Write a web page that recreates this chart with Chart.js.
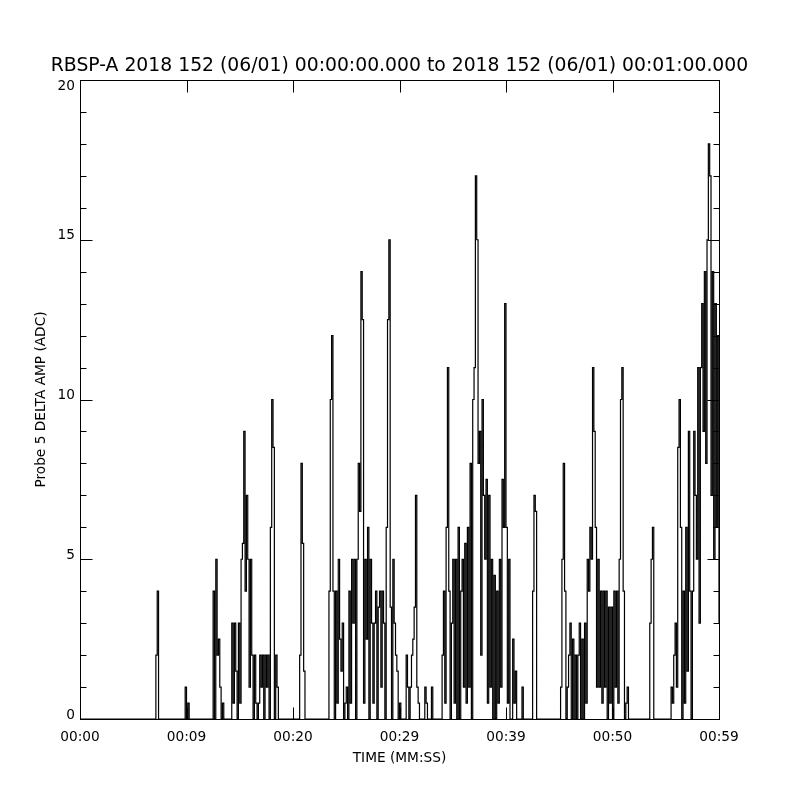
<!DOCTYPE html>
<html>
<head>
<meta charset="utf-8">
<script src="https://cdn.jsdelivr.net/npm/chart.js@4.4.1/dist/chart.umd.min.js"></script>
<style>
  html, body { margin: 0; padding: 0; background: #ffffff; }
  #wrap { width: 800px; height: 800px; }
</style>
</head>
<body>
<div id="wrap"><canvas id="c" width="800" height="800"></canvas></div>
<script>
// ---------------- data ----------------
const chartTitle = 'RBSP-A 2018 152 (06/01) 00:00:00.000 to 2018 152 (06/01) 00:01:00.000';
const xAxisTitle = 'TIME (MM:SS)';
const yAxisTitle = 'Probe 5 DELTA AMP (ADC)';

const timeTickValues = [0, 10, 20, 30, 40, 50, 60];
const timeTickLabels = ['00:00', '00:09', '00:20', '00:29', '00:39', '00:50', '00:59'];
const ampTickValues = [0, 5, 10, 15, 20];
const ampTickLabels = ['0', '5', '10', '15', '20'];
const ampMinorStep = 1;

const sampleStartSec = 0;
const samplePeriodSec = 0.125;

// Probe 5 delta amplitude (ADC), one sample every 0.125 s
const deltaAmp = [
  0,0,0,0,0,0,0,0,0,0, 0,0,0,0,0,0,0,0,0,0,            // 0
  0,0,0,0,0,0,0,0,0,0, 0,0,0,0,0,0,0,0,0,0,            // 20
  0,0,0,0,0,0,0,0,0,0, 0,0,0,0,0,0,0,2,4,0,            // 40
  0,0,0,0,0,0,0,0,0,0, 0,0,0,0,0,0,0,0,0,1,            // 60
  0,0.5,0,0,0,0,0,0,0,0, 0,0,0,0,0,0,0,0,0,0,          // 80
  4,0,5,2,2.5,1,0,0.5,0,0, 0,0,0,0,3,0.5,3,1.5,0,3,    // 100
  0.5,5,5.5,9,4,7,5,1,5,2, 0,2,0.5,0,0.5,2,1,2,0,2,    // 120
  1,2,0,6,10,8.5,0,2,1,0, 0,0,0,0,0,0,0,0,0,0,         // 140
  0,0,0,0,0,2,8,5.5,1.5,0, 0,0,0,0,0,0,0,0,0,0,        // 160
  0,0,0,0,0,0,0,4,10,12, 4,0,4,0.5,5,2.5,1.5,3,0,0.5,  // 180
  1,0,4,0.5,5,3,5,0,5,8, 6.5,14,12.5,0.5,5,2.5,6,0,5,3,// 200
  0.5,3,4,0,3.5,4,1,4,3,0, 6,12.5,15,3.5,0,5,3,2,1.5,0,// 220
  0.5,0,0,0,0,2,1,0,1,2, 2.5,3.5,7,1,0.5,0,0,0,0,1,    // 240
  0.5,0,0,0,1,0,0,0,0,0, 0,0,2,4,0.5,6,11,4,0,3,       // 260
  5,0.5,5,0,6,0,4,5,1,5.5, 0.5,6,1,8,0,10,11,17,15,8,  // 280
  9,2,10,7,5,7.5,0.5,7,1,5, 0,4.5,0,4,0.5,5,1,7.5,6,13,// 300
  6,0.5,5,0,0,2.5,0.5,1.5,0,0, 0,0,1,0,0,0,0,0,0,0,    // 320
  4,7,6.5,0,0,0,0,0,0,0, 0,0,0,0,0,0,0,0,0,0,          // 340
  0,1,5,8,4,0,1,2,3,0, 2.5,0,2,0,2,3,0,2.5,0,3,        // 360
  0.5,5,4,6,5,11,9,6,1,5, 1,4,0.5,4,1,4,0,3.5,0.5,3.5, // 380
  0,4,1,4,0.5,5,10,11,4,0, 0.5,1,0,0,0,0,0,0,0,0,      // 400
  0,0,0,0,0,0,0,0,3,5, 6,0,0,0,0,0,0,0,0,0,            // 420
  0,0,0,0,1,0.5,2,3,1,8.5, 10,6,0,4,0.5,6,1.5,9,4,0,   // 440
  4,9,7,5,11,3,11,13,9,14, 8,15,18,17,7,14,5,13,6,12,  // 460
  3                                                    // 480
];

// ---------------- chart ----------------
const points = deltaAmp.map((v, i) => ({ x: sampleStartSec + i * samplePeriodSec, y: v }));

const FONT = '"DejaVu Sans", "Liberation Sans", sans-serif';

const framePlugin = {
  id: 'idlFrame',
  beforeDraw(chart) {
    // keep the top y label ("20") just inside the frame, as in the original
    const ys = chart.scales.y;
    const items = ys.getLabelItems(chart.chartArea);
    items.forEach(it => {
      if (it.label === ampTickLabels[ampTickLabels.length - 1]) {
        it.options.translation[1] = ys.getPixelForValue(ys.max) + 6;
      }
    });
  },
  afterDraw(chart) {
    const ctx = chart.ctx;
    const a = chart.chartArea;
    const xs = chart.scales.x;
    const ys = chart.scales.y;
    ctx.save();
    ctx.strokeStyle = '#000';
    ctx.lineWidth = 1;
    ctx.strokeRect(a.left + 0.5, a.top + 0.5, a.right - a.left, a.bottom - a.top);
    ctx.beginPath();
    timeTickValues.forEach(v => {
      const px = Math.round(xs.getPixelForValue(v)) + 0.5;
      ctx.moveTo(px, a.bottom + 0.5); ctx.lineTo(px, a.bottom + 0.5 - 12);
      ctx.moveTo(px, a.top + 0.5); ctx.lineTo(px, a.top + 0.5 + 12);
    });
    for (let v = ys.min; v <= ys.max + 1e-9; v += ampMinorStep) {
      const py = Math.round(ys.getPixelForValue(v)) + 0.5;
      const len = ampTickValues.includes(v) ? 12 : 6;
      ctx.moveTo(a.left + 0.5, py); ctx.lineTo(a.left + 0.5 + len, py);
      ctx.moveTo(a.right + 0.5, py); ctx.lineTo(a.right + 0.5 - len, py);
    }
    ctx.stroke();

    ctx.fillStyle = '#000';
    ctx.textAlign = 'center';
    ctx.textBaseline = 'middle';
    ctx.font = '18.8px ' + FONT;
    ctx.fillText(chartTitle, (a.left + a.right) / 2, 66);
    ctx.font = '13.7px ' + FONT;
    ctx.fillText(xAxisTitle, (a.left + a.right) / 2, 758);
    ctx.save();
    ctx.translate(41, (a.top + a.bottom) / 2);
    ctx.rotate(-Math.PI / 2);
    ctx.fillText(yAxisTitle, 0, 0);
    ctx.restore();
    ctx.restore();
  }
};

new Chart(document.getElementById('c'), {
  type: 'line',
  data: {
    datasets: [{
      data: points,
      borderColor: '#000000',
      borderWidth: 1.2,
      pointRadius: 0,
      stepped: 'before',
      fill: false
    }]
  },
  options: {
    responsive: false,
    animation: false,
    events: [],
    devicePixelRatio: 1,
    layout: { padding: { top: 80, right: 81, left: 0, bottom: 0 } },
    plugins: { legend: { display: false }, tooltip: { enabled: false }, title: { display: false } },
    scales: {
      x: {
        type: 'linear',
        min: 0,
        max: 60,
        grid: { display: false, drawTicks: false },
        border: { display: false },
        afterBuildTicks: s => { s.ticks = timeTickValues.map(v => ({ value: v })); },
        afterFit: s => { s.height = 81; },
        ticks: {
          autoSkip: false,
          maxRotation: 0,
          minRotation: 0,
          padding: 10,
          color: '#000',
          font: { family: FONT, size: 13.7 },
          callback: v => timeTickLabels[timeTickValues.indexOf(v)]
        }
      },
      y: {
        type: 'linear',
        min: 0,
        max: 20,
        grid: { display: false, drawTicks: false },
        border: { display: false },
        afterBuildTicks: s => { s.ticks = ampTickValues.map(v => ({ value: v })); },
        afterFit: s => { s.width = 80; },
        ticks: {
          autoSkip: false,
          padding: 5,
          labelOffset: -4,
          color: '#000',
          font: { family: FONT, size: 13.7 },
          callback: v => ampTickLabels[ampTickValues.indexOf(v)]
        }
      }
    }
  },
  plugins: [framePlugin]
});
</script>
</body>
</html>
